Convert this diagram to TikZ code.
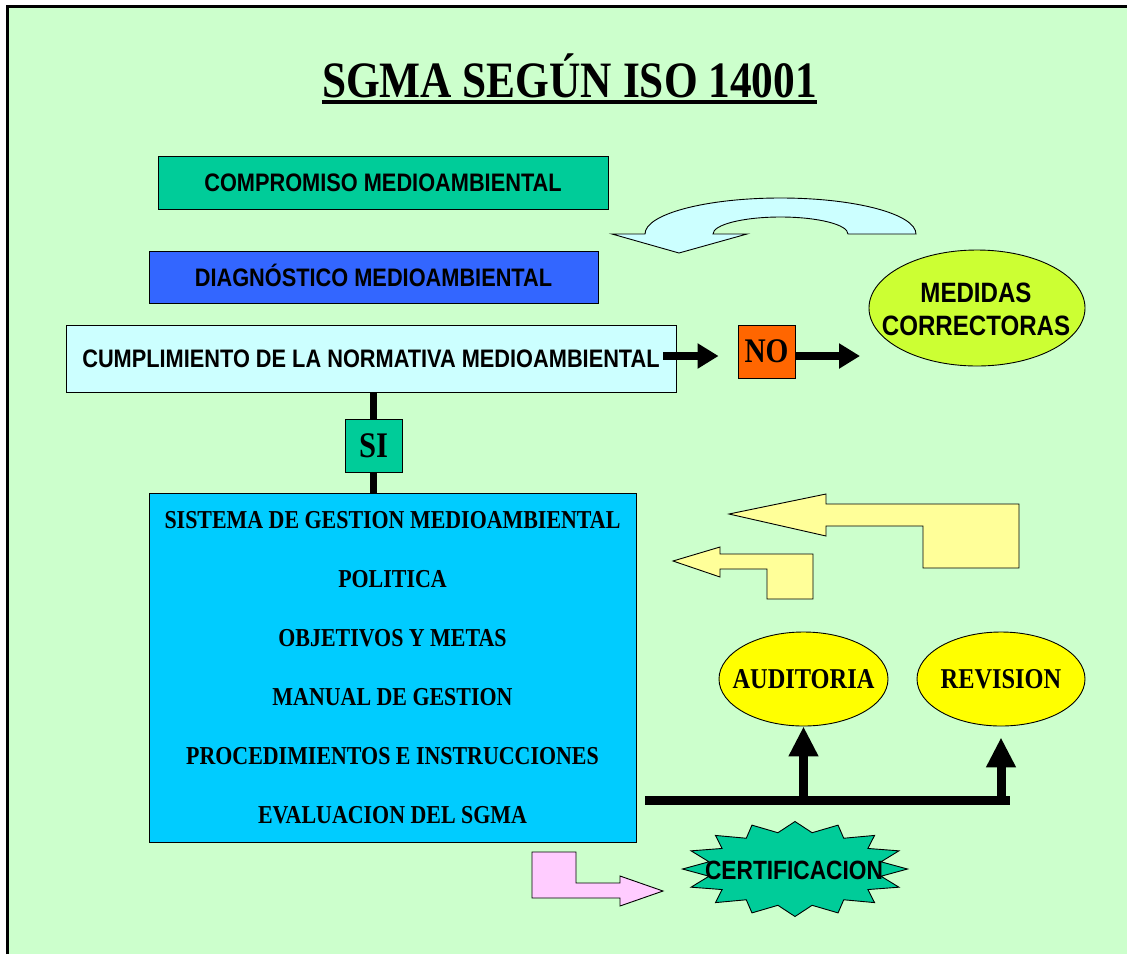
\documentclass[tikz,border=0pt]{standalone}
\usepackage{fontspec}
\usetikzlibrary{arrows.meta,shapes.geometric}
\newfontfamily\tnr{Liberation Serif}[FakeStretch=0.85]
\newfontfamily\arl{Liberation Sans}[FakeStretch=0.86]
\definecolor{pagebg}{HTML}{CCFFCC}
\definecolor{teal}{HTML}{00CC99}
\definecolor{royal}{HTML}{3366FF}
\definecolor{palecyan}{HTML}{CCFFFF}
\definecolor{orangebox}{HTML}{FF6600}
\definecolor{lime}{HTML}{CCFF33}
\definecolor{skyblue}{HTML}{00CCFF}
\definecolor{paleyellow}{HTML}{FFFF99}
\definecolor{brightyellow}{HTML}{FFFF00}
\definecolor{palepink}{HTML}{FFCCFF}
\begin{document}
\begin{tikzpicture}[x=1pt,y=-1pt,
  box/.style={draw=black, line width=0.9pt, inner sep=0pt},
  outline/.style={draw=black, line width=0.9pt, line join=miter},
  sanslabel/.style={font=\arl\bfseries\fontsize{25.3}{30}\selectfont, text height=18.1pt, text depth=0pt},
  seriflabel/.style={font=\tnr\bfseries\fontsize{28.7}{34}\selectfont, text height=19pt, text depth=0pt},
  fatarrow/.style={line width=8pt, -{Triangle[length=21pt,width=24pt]}},
  busline/.style={line width=9pt},
  riser/.style={line width=9pt, -{Triangle[length=30pt,width=28pt]}}]

% page and frame
\useasboundingbox (0,0) rectangle (1127,954);
\fill[white] (0,0) rectangle (1127,954);
\fill[pagebg] (7.3,6.7) rectangle (1127,954);
\draw[line width=2.5pt] (7.3,954) -- (7.3,6.7) -- (1127,6.7);

% title
\node[anchor=base, inner sep=0pt, font=\tnr\bfseries\fontsize{51}{60}\selectfont] (title) at (569.5,97) {SGMA SEGÚN ISO 14001};
\draw[line width=4pt] ([yshift=-5pt]title.base west) -- ([yshift=-5pt]title.base east);

% upper boxes
\node[box, fill=teal, minimum width=450pt, minimum height=53pt, sanslabel] (comp) at (383,182.5) {COMPROMISO MEDIOAMBIENTAL};
\node[box, fill=royal, minimum width=449pt, minimum height=52pt, sanslabel] (diag) at (373.5,277) {DIAGNÓSTICO MEDIOAMBIENTAL};
\node[box, fill=palecyan, minimum width=610pt, minimum height=67pt, sanslabel] (cumpl) at (371,358.5) {CUMPLIMIENTO DE LA NORMATIVA MEDIOAMBIENTAL};

% U-turn arrow
\filldraw[fill=palecyan, outline] (612,234) -- (645,234)
  arc[start angle=180, end angle=360, x radius=135.5, y radius=36]
  -- (848,234)
  arc[start angle=360, end angle=180, x radius=67.5, y radius=17]
  -- (747,234) -- (679,253) -- cycle;

% NO branch
\node[box, fill=orangebox, minimum width=57pt, minimum height=53pt,
  font=\tnr\bfseries\fontsize{34.5}{40}\selectfont, text height=22.8pt, text depth=0pt] (no) at (766.5,351.5) {NO};
\node[ellipse, draw=black, line width=0.9pt, fill=lime, minimum width=216pt, minimum height=116pt, inner sep=0pt] (med) at (977,308) {};
\node[align=center, inner sep=0pt, font=\arl\bfseries\fontsize{28}{33}\selectfont] (medtext) at (976,309.5) {MEDIDAS\\CORRECTORAS};
\coordinate (lvl) at (0,356);
\coordinate (medtip) at (860,356);
\draw[fatarrow, shorten >=19pt] ([xshift=-13pt]cumpl.east |- lvl) -- (no.west |- lvl);
\draw[fatarrow] (no.east |- lvl) -- (medtip);

% SI branch
\node[box, fill=skyblue, minimum width=487pt, minimum height=349pt, align=center,
  font=\tnr\bfseries\fontsize{25.8}{59}\selectfont] (sgma) at (392.5,667.5)
  {SISTEMA DE GESTION MEDIOAMBIENTAL\\POLITICA\\OBJETIVOS Y METAS\\MANUAL DE GESTION\\PROCEDIMIENTOS E INSTRUCCIONES\\EVALUACION DEL SGMA};
\node[box, fill=teal, minimum width=57pt, minimum height=53pt,
  font=\tnr\bfseries\fontsize{36}{42}\selectfont, text height=24.5pt, text depth=0pt] (si) at (373.5,445.5) {SI};
\draw[line width=7pt] (si.north) -- (si.north |- cumpl.south);
\draw[line width=7pt] (si.south) -- (si.south |- sgma.north);

% feedback arrows
\filldraw[fill=paleyellow, outline] (729,514) -- (826,494) -- (826,504) -- (1019,504) -- (1019,568)
  -- (923,568) -- (923,526) -- (826,526) -- (826,536) -- cycle;
\filldraw[fill=paleyellow, outline] (673,561) -- (720,547) -- (720,554) -- (813,554) -- (813,599)
  -- (767,599) -- (767,569) -- (720,569) -- (720,577) -- cycle;

% audit and review
\node[ellipse, draw=black, line width=0.9pt, fill=brightyellow, minimum width=169pt, minimum height=94pt, inner sep=0pt, seriflabel] (aud) at (803.5,679) {\makebox[0pt]{AUDITORIA}};
\node[ellipse, draw=black, line width=0.9pt, fill=brightyellow, minimum width=168pt, minimum height=94pt, inner sep=0pt, seriflabel] (rev) at (1001,679) {\makebox[0pt]{REVISION}};
\coordinate (busL) at (645,800);
\coordinate (busR) at (1010,800);
\draw[busline] (busL) -- (busR);
\draw[riser] (aud.south |- busL) -- (aud.south);
\draw[riser, shorten >=11pt] (rev.south |- busL) -- (rev.south);

% certification
\filldraw[fill=palepink, outline] (532,852) -- (576,852) -- (576,883) -- (620,883) -- (620,876)
  -- (663,891) -- (620,906) -- (620,898) -- (532,898) -- cycle;
\filldraw[fill=teal, outline] (907.5,869)
  \foreach \k in {1,...,31}{ -- ({795+ifthenelse(isodd(\k),87.7,112.5)*cos(\k*11.25)},{869+ifthenelse(isodd(\k),37,47.5)*sin(\k*11.25)}) } -- cycle;
\node[inner sep=0pt, font=\arl\bfseries\fontsize{26.4}{30}\selectfont, text height=18.9pt, text depth=0pt] (cert) at (794,870.5) {CERTIFICACION};

\end{tikzpicture}
\end{document}
